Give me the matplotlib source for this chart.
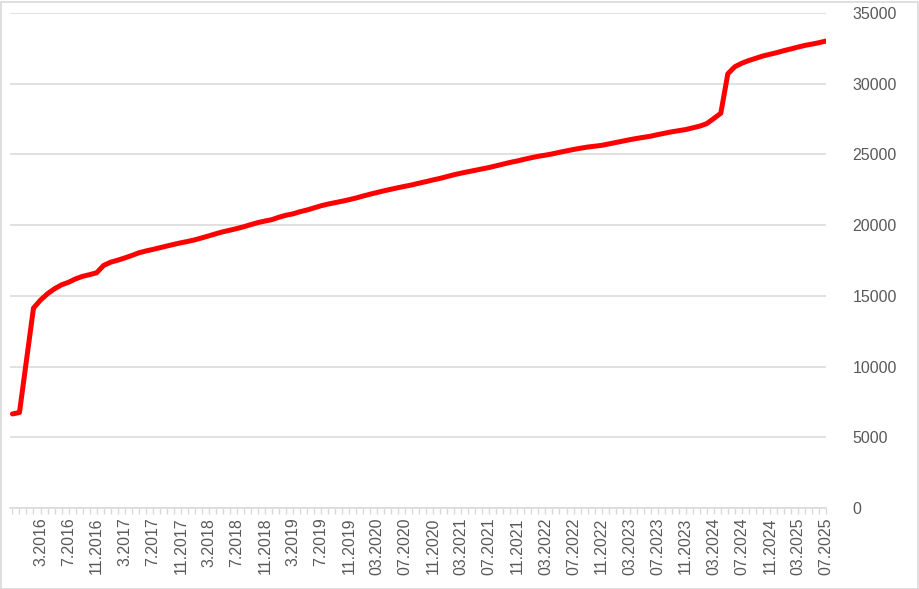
import matplotlib
matplotlib.use("Agg")
import matplotlib.pyplot as plt
from matplotlib.patches import Rectangle

plt.rcParams['font.family'] = ['Liberation Sans', 'DejaVu Sans']

# monthly values, 11.2015 .. 07.2025
values = [
    6650, 6750, 10450, 14140, 14700, 15150, 15500, 15780, 15960, 16200,
    16380, 16500, 16630, 17150, 17380, 17520, 17680, 17850, 18040, 18170,
    18280, 18400, 18520, 18640, 18750, 18850, 18960, 19100, 19240, 19390,
    19530, 19640, 19760, 19890, 20040, 20180, 20290, 20390, 20560, 20700,
    20800, 20950, 21070, 21220, 21370, 21490, 21590, 21690, 21800, 21920,
    22060, 22190, 22310, 22430, 22540, 22650, 22750, 22850, 22970, 23080,
    23200, 23310, 23440, 23570, 23680, 23780, 23880, 23980, 24080, 24200,
    24320, 24440, 24540, 24660, 24770, 24870, 24950, 25040, 25150, 25250,
    25350, 25440, 25520, 25580, 25640, 25740, 25840, 25940, 26040, 26130,
    26210, 26290, 26400, 26500, 26600, 26680, 26760, 26880, 27000, 27180,
    27540, 27910, 30700, 31200, 31450, 31640, 31800, 31960, 32080, 32200,
    32340, 32460, 32590, 32710, 32800, 32900, 33020,
]

# labels shown every 4th month, starting at the 5th point
tick_labels = [
    "3.2016", "7.2016", "11.2016", "3.2017", "7.2017", "11.2017",
    "3.2018", "7.2018", "11.2018", "3.2019", "7.2019", "11.2019",
    "03.2020", "07.2020", "11.2020", "03.2021", "07.2021", "11.2021",
    "03.2022", "07.2022", "11.2022", "03.2023", "07.2023", "11.2023",
    "03.2024", "07.2024", "11.2024", "03.2025", "07.2025",
]
first_label = 4
label_step = 4

y_ticks = [0, 5000, 10000, 15000, 20000, 25000, 30000, 35000]

grid_col = "#D9D9D9"
text_col = "#595959"

W, H = 920, 589
fig = plt.figure(figsize=(W / 100, H / 100), dpi=100)
ax = fig.add_axes([10 / W, 1 - 508 / H, (826 - 10) / W, (508 - 13) / H])

x = list(range(len(values)))
ax.plot(x, values, color="#FF0000", lw=3.6, solid_capstyle="round",
        solid_joinstyle="round", zorder=3)

ax.set_xlim(-0.35, len(values) - 1)
ax.set_ylim(0, 35000)

# y axis on the right, no line, gridlines
ax.set_yticks(y_ticks)
ax.set_yticklabels([str(v) for v in y_ticks])
ax.yaxis.tick_right()
ax.tick_params(axis="y", length=0, pad=19, labelsize=11.5, labelcolor=text_col)
ax.grid(axis="y", color=grid_col, lw=1.1)
ax.set_axisbelow(True)

# x axis: tick mark on every month, label on every 4th
ax.set_xticks(x)
labels = [""] * len(values)
for k, lab in enumerate(tick_labels):
    labels[first_label + k * label_step] = lab
ax.set_xticklabels(labels, rotation=90, va="top", ha="center")
ax.tick_params(axis="x", direction="out", length=4, width=1, color=grid_col,
               pad=3, labelsize=11.5, labelcolor=text_col)

for s in ["top", "left", "right"]:
    ax.spines[s].set_visible(False)
ax.spines["bottom"].set_color(grid_col)
ax.spines["bottom"].set_linewidth(1.1)

# chart border
fig.patches.append(Rectangle((0.5 / W, 0.5 / H), 1 - 2 / W, 1 - 2 / H,
                             transform=fig.transFigure, fill=False,
                             edgecolor=grid_col, lw=1.2))

fig.savefig("out.png", dpi=100)
